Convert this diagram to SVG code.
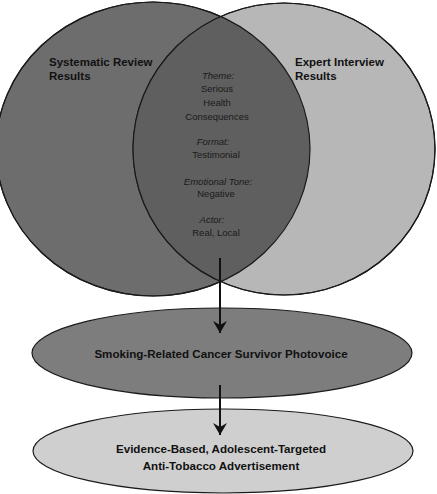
<svg xmlns="http://www.w3.org/2000/svg" width="437" height="494" viewBox="0 0 437 494">
  <style>
    .shape { stroke: #1a1a1a; stroke-width: 1.2; }
    .head { font-family: "Liberation Sans", Arial, sans-serif; font-weight: bold; font-size: 11.5px; fill: #111; }
    .lab { font-family: "Liberation Sans", Arial, sans-serif; font-weight: bold; font-size: 11.6px; fill: #111; text-anchor: middle; }
    .it { font-family: "Liberation Sans", Arial, sans-serif; font-size: 9.5px; fill: #1a1a1a; text-anchor: middle; }
    .i { font-style: italic; }
    .conn { stroke: #111; stroke-width: 2; fill: none; }
  </style>
  <defs>
    <marker id="arrow" markerWidth="14" markerHeight="14" refX="12" refY="7" orient="auto" markerUnits="userSpaceOnUse">
      <path d="M0,0 L12,7 L0,14 L4,7 Z" fill="#111"/>
    </marker>
    <clipPath id="leftClip">
      <ellipse cx="153" cy="149" rx="157" ry="147"/>
    </clipPath>
  </defs>
  <rect width="437" height="494" fill="#ffffff"/>
  <g id="systematic-review">
    <ellipse class="shape" cx="153" cy="149" rx="157" ry="147" fill="#6d6d6d"/>
    <text class="head" x="49" y="66">Systematic Review</text>
    <text class="head" x="49" y="80">Results</text>
  </g>
  <g id="expert-interview">
    <ellipse class="shape" cx="284" cy="149" rx="151" ry="146" fill="#b7b7b7"/>
    <text class="head" x="295" y="66">Expert Interview</text>
    <text class="head" x="295" y="80">Results</text>
  </g>
  <g id="overlap">
    <ellipse cx="284" cy="149" rx="151" ry="146" fill="#5f5f5f" clip-path="url(#leftClip)"/>
    <ellipse cx="153" cy="149" rx="157" ry="147" fill="none" stroke="#1a1a1a" stroke-width="1.2"/>
    <ellipse cx="284" cy="149" rx="151" ry="146" fill="none" stroke="#1a1a1a" stroke-width="1.2"/>
    <text class="it i" x="218" y="78.5">Theme:</text>
    <text class="it" x="217" y="92">Serious</text>
    <text class="it" x="217" y="106">Health</text>
    <text class="it" x="217" y="119.5">Consequences</text>
    <text class="it i" x="213" y="145">Format:</text>
    <text class="it" x="216" y="157.5">Testimonial</text>
    <text class="it i" x="218" y="184.5">Emotional Tone:</text>
    <text class="it" x="216" y="196.5">Negative</text>
    <text class="it i" x="212" y="222.5">Actor:</text>
    <text class="it" x="216" y="235.5">Real, Local</text>
  </g>
  <g id="photovoice">
    <ellipse class="shape" cx="222" cy="353" rx="190" ry="45" fill="#7d7d7d"/>
    <text class="lab" x="221" y="358">Smoking-Related Cancer Survivor Photovoice</text>
  </g>
  <g id="advertisement">
    <ellipse class="shape" cx="223" cy="451" rx="190" ry="42" fill="#cfcfcf"/>
    <text class="lab" x="221" y="453">Evidence-Based, Adolescent-Targeted</text>
    <text class="lab" x="221" y="470">Anti-Tobacco Advertisement</text>
  </g>
  <g id="connectors">
    <line class="conn" x1="220" y1="258" x2="220" y2="333" marker-end="url(#arrow)"/>
    <line class="conn" x1="220" y1="385" x2="220" y2="435" marker-end="url(#arrow)"/>
  </g>
</svg>
